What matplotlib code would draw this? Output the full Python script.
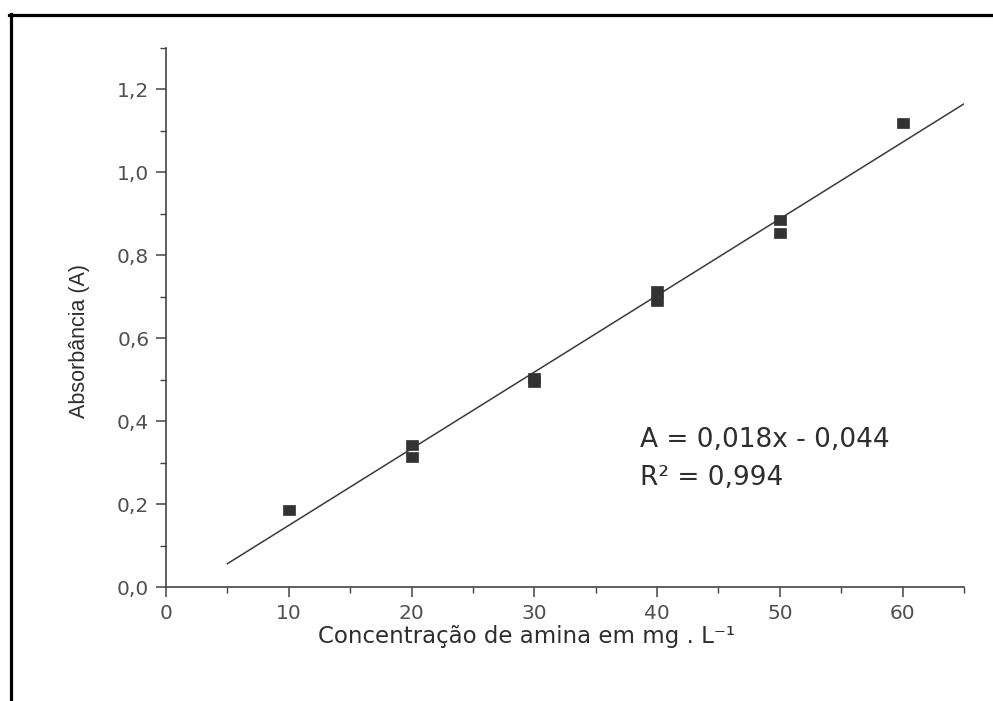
import numpy as np
import matplotlib
matplotlib.use("Agg")
import matplotlib.pyplot as plt
from matplotlib.lines import Line2D
from matplotlib.ticker import MultipleLocator, FixedLocator

plt.rcParams['font.family'] = ['DejaVu Sans']

# Calibration data: amine concentration (mg/L) vs absorbance
concentration = [10, 20, 20, 30, 30, 40, 40, 50, 50, 60]
absorbance = [0.186, 0.343, 0.314, 0.505, 0.495, 0.715, 0.691, 0.886, 0.855, 1.118]

x_ticks = [0, 10, 20, 30, 40, 50, 60]
x_tick_labels = ["0", "10", "20", "30", "40", "50", "60"]
y_ticks = [0.0, 0.2, 0.4, 0.6, 0.8, 1.0, 1.2]
y_tick_labels = ["0,0", "0,2", "0,4", "0,6", "0,8", "1,0", "1,2"]

fit_range = [5, 65]
equation_text = "A = 0,018x - 0,044"
r2_text = "R² = 0,994"

ink = "#2e2e2e"
tick_ink = "#505050"

fig = plt.figure(figsize=(9.93, 7.01), dpi=100)
ax = fig.add_axes([0.1672, 0.1626, 0.8036, 0.7689])

# least-squares calibration line
slope, intercept = np.polyfit(concentration, absorbance, 1)
xf = np.array(fit_range, dtype=float)
ax.plot(xf, slope * xf + intercept, color="#3a3a3a", lw=1.1, zorder=2)

# slightly wide square markers
box = [(-1.2, -1.0), (1.2, -1.0), (1.2, 1.0), (-1.2, 1.0), (-1.2, -1.0)]
ax.plot(concentration, absorbance, linestyle="none", marker=box, ms=9,
        mfc="#333333", mec="#333333", mew=0.5, zorder=3)

ax.set_xlim(0, 65)
ax.set_ylim(0, 1.3)

ax.xaxis.set_major_locator(FixedLocator(x_ticks))
ax.set_xticklabels(x_tick_labels)
ax.xaxis.set_minor_locator(MultipleLocator(5))
ax.yaxis.set_major_locator(FixedLocator(y_ticks))
ax.set_yticklabels(y_tick_labels)
ax.yaxis.set_minor_locator(FixedLocator([0.1, 0.3, 0.5, 0.7, 0.9, 1.1, 1.3]))

for side in ("top", "right"):
    ax.spines[side].set_visible(False)
for side in ("left", "bottom"):
    ax.spines[side].set_color("#444444")
    ax.spines[side].set_linewidth(1.2)

ax.tick_params(which="major", direction="out", length=7, width=1.1,
               color="#444444", labelsize=14.5, labelcolor=tick_ink, pad=5)
ax.tick_params(which="minor", direction="out", length=4, width=1.0,
               color="#444444")

ax.set_xlabel("Concentração de amina em mg . L⁻¹", fontsize=16.5, color=ink)
ax.xaxis.set_label_coords(0.452, -0.104)
ax.xaxis.label.set_verticalalignment("baseline")

ax.set_ylabel("Absorbância (A)", fontsize=15.5, color=ink,
              family=["Liberation Sans", "DejaVu Sans"])
ax.yaxis.set_label_coords(-0.108, 0.456)
ax.yaxis.label.set_verticalalignment("center")
ax.yaxis.label.set_horizontalalignment("center")

ax.text(0.594, 0.259, equation_text, transform=ax.transAxes,
        fontsize=19, color=ink, va="baseline", ha="left")
ax.text(0.594, 0.189, r2_text, transform=ax.transAxes,
        fontsize=19, color=ink, va="baseline", ha="left")

# page frame (top and left edges)
W, H = 993, 701
fig.add_artist(Line2D([9 / W, 1.0], [1 - 14.5 / H, 1 - 14.5 / H],
                      color="black", lw=2.3, transform=fig.transFigure))
fig.add_artist(Line2D([10.5 / W, 10.5 / W], [0.0, 1 - 13.5 / H],
                      color="black", lw=2.3, transform=fig.transFigure))

fig.savefig("out.png", dpi=100, facecolor="white")
